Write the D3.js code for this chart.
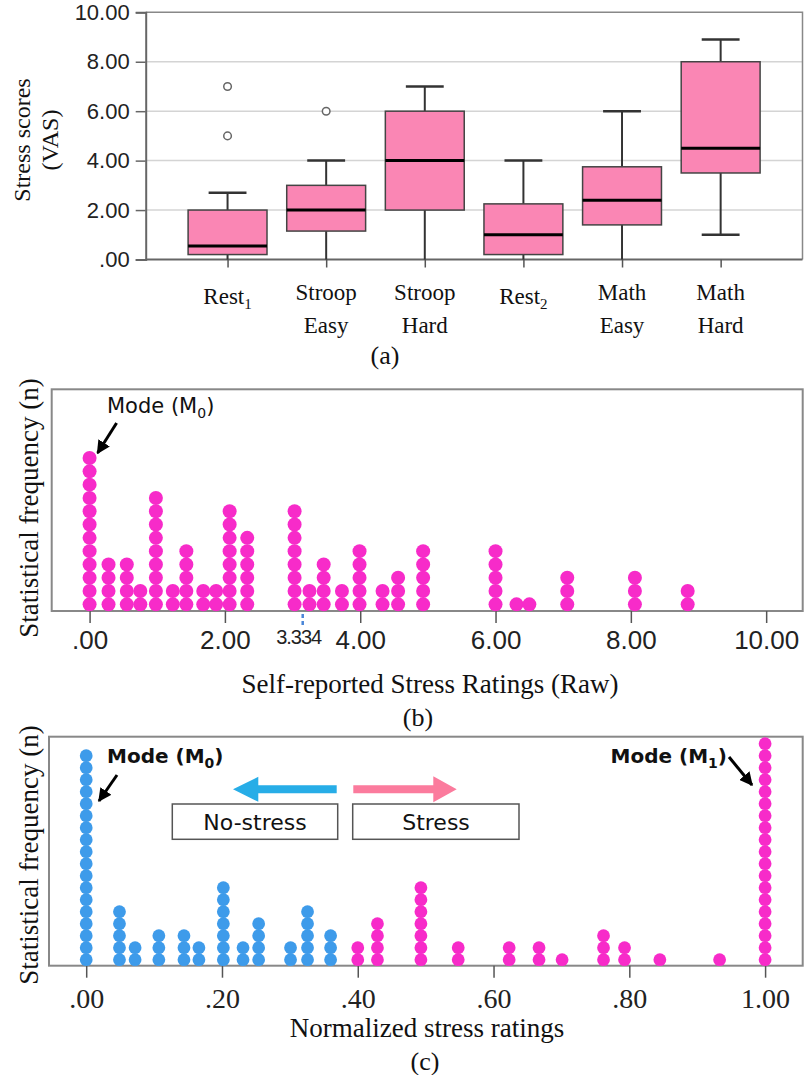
<!DOCTYPE html>
<html>
<head>
<meta charset="utf-8">
<script src="https://cdn.jsdelivr.net/npm/d3@7"></script>
<style>
  body { margin: 0; background: #fff; }
  svg { display: block; }
</style>
</head>
<body>
<div id="my_dataviz"></div>
<script>
// ---- panel (a) box plots ----
var categories = ["Rest1", "Stroop Easy", "Stroop Hard", "Rest2", "Math Easy", "Math Hard"];
var catLine1 = ["Rest", "Stroop", "Stroop", "Rest", "Math", "Math"];
var catSub = ["1", "", "", "2", "", ""];
var catLine2 = ["", "Easy", "Hard", "", "Easy", "Hard"];
var boxMin = [0, 0, 0, 0, 0, 1.0];
var boxQ1 = [0.2, 1.15, 2.0, 0.2, 1.4, 3.5];
var boxMedian = [0.55, 2.0, 4.0, 1.0, 2.4, 4.5];
var boxQ3 = [2.0, 3.0, 6.0, 2.25, 3.75, 8.0];
var boxMax = [2.7, 4.0, 7.0, 4.0, 6.0, 8.9];
var outlierCat = ["Rest1", "Rest1", "Stroop Easy"];
var outlierVal = [7, 5, 6];
var yTicksA = [0, 2, 4, 6, 8, 10];
var yTickLabelsA = [".00", "2.00", "4.00", "6.00", "8.00", "10.00"];

// ---- panel (b) raw ratings dot plot ----
var rawValues = [0, 0.28, 0.55, 0.75, 0.98, 1.23, 1.43, 1.68, 1.87, 2.07, 2.33, 3.03, 3.25, 3.46, 3.73, 3.99, 4.33, 4.56, 4.93, 6.0, 6.31, 6.5, 7.06, 8.06, 8.84];
var rawCounts = [12, 4, 4, 2, 9, 2, 5, 2, 2, 8, 6, 8, 2, 4, 2, 5, 2, 3, 5, 5, 1, 1, 3, 3, 2];
var xTicksB = [0, 2, 4, 6, 8, 10];
var xTickLabelsB = [".00", "2.00", "4.00", "6.00", "8.00", "10.00"];
var markerLabelB = "3.334";
var markerPosB = 3.15;

// ---- panel (c) normalized ratings dot plot ----
var noStressValues = [0, 0.049, 0.072, 0.107, 0.144, 0.166, 0.202, 0.231, 0.254, 0.301, 0.326, 0.36];
var noStressCounts = [18, 5, 2, 3, 3, 2, 7, 2, 4, 2, 5, 3];
var stressValues = [0.40, 0.429, 0.493, 0.548, 0.623, 0.667, 0.701, 0.762, 0.793, 0.845, 0.933, 1.0];
var stressCounts = [2, 4, 7, 2, 2, 2, 1, 3, 2, 1, 1, 19];
var xTicksC = [0, 0.2, 0.4, 0.6, 0.8, 1.0];
var xTickLabelsC = [".00", ".20", ".40", ".60", ".80", "1.00"];

var serif = "'Liberation Serif', 'Times New Roman', serif";
var sans = "'Liberation Sans', Arial, sans-serif";
var gothic = "'DejaVu Sans', sans-serif";
var magenta = "#f72bc9";
var blue = "#3e9bea";

var svg = d3.select("#my_dataviz")
  .append("svg")
  .attr("width", 804)
  .attr("height", 1075);

// arrowhead marker
svg.append("defs").append("marker")
  .attr("id", "blackHead")
  .attr("viewBox", "0 0 10 10")
  .attr("refX", 9).attr("refY", 5)
  .attr("markerWidth", 4.5).attr("markerHeight", 4.5)
  .attr("orient", "auto")
  .append("path").attr("d", "M0,0L10,5L0,10z").attr("fill", "#000");

/* ================= PANEL A ================= */
var a = {left: 145.7, right: 802.5, top: 12.3, bottom: 259.5};

var xA = d3.scalePoint()
  .domain(categories)
  .range([a.left, a.right])
  .padding(0.83);

var yA = d3.scaleLinear()
  .domain([0, 10])
  .range([a.bottom, a.top]);

var boxW = xA.step() * 0.8;
var capW = boxW * 0.48;

// gridlines
svg.append("g")
  .selectAll("line")
  .data(yTicksA.filter(function(d){ return d > 0 && d < 10 }))
  .enter()
  .append("line")
  .attr("x1", a.left).attr("x2", a.right)
  .attr("y1", function(d){ return yA(d) }).attr("y2", function(d){ return yA(d) })
  .attr("stroke", "#d4d4d4").attr("stroke-width", 1.5);

// frame top/right
svg.append("path")
  .attr("d", "M" + a.left + "," + a.top + "H" + a.right + "V" + a.bottom)
  .attr("fill", "none").attr("stroke", "#888").attr("stroke-width", 1.5);

// y axis
var yAxisA = svg.append("g")
  .attr("transform", "translate(" + a.left + ",0)")
  .call(d3.axisLeft(yA).tickValues(yTicksA).tickSize(10).tickPadding(6)
    .tickFormat(function(d, i){ return yTickLabelsA[i] }));
yAxisA.select(".domain").attr("stroke", "#666").attr("stroke-width", 2);
yAxisA.selectAll(".tick line").attr("stroke", "#666").attr("stroke-width", 1.5);
yAxisA.selectAll(".tick text").style("font-family", sans).style("font-size", "22px").attr("fill", "#222");

// x axis
var xAxisA = svg.append("g")
  .attr("transform", "translate(0," + a.bottom + ")")
  .call(d3.axisBottom(xA).tickSize(8).tickFormat(""));
xAxisA.select(".domain").attr("d", "M" + a.left + ",0H" + a.right).attr("stroke", "#666").attr("stroke-width", 2);
xAxisA.selectAll(".tick line").attr("stroke", "#555").attr("stroke-width", 1.5);

// category labels
svg.append("g")
  .selectAll("text")
  .data(categories)
  .enter()
  .append("text")
  .attr("text-anchor", "middle")
  .style("font-family", serif)
  .style("font-size", "23px")
  .attr("fill", "#111")
  .each(function(d, i){
    var t = d3.select(this);
    var cx = xA(d);
    if (catLine2[i] === "") {
      t.append("tspan").attr("x", cx).attr("y", 304).text(catLine1[i]);
      t.append("tspan").attr("dy", 5).style("font-size", "15px").text(catSub[i]);
    } else {
      t.append("tspan").attr("x", cx).attr("y", 300).text(catLine1[i]);
      t.append("tspan").attr("x", cx).attr("y", 333).text(catLine2[i]);
    }
  });

var boxes = svg.append("g")
  .selectAll("g")
  .data(categories)
  .enter()
  .append("g");

// whiskers
boxes.append("line")
  .attr("x1", function(d){ return xA(d) }).attr("x2", function(d){ return xA(d) })
  .attr("y1", function(d, i){ return yA(boxMax[i]) })
  .attr("y2", function(d, i){ return yA(boxQ3[i]) })
  .attr("stroke", "#333").attr("stroke-width", 2);
boxes.append("line")
  .attr("x1", function(d){ return xA(d) }).attr("x2", function(d){ return xA(d) })
  .attr("y1", function(d, i){ return yA(boxMin[i]) })
  .attr("y2", function(d, i){ return yA(boxQ1[i]) })
  .attr("stroke", "#333").attr("stroke-width", 2);
// caps
boxes.append("line")
  .attr("x1", function(d){ return xA(d) - capW/2 }).attr("x2", function(d){ return xA(d) + capW/2 })
  .attr("y1", function(d, i){ return yA(boxMax[i]) }).attr("y2", function(d, i){ return yA(boxMax[i]) })
  .attr("stroke", "#333").attr("stroke-width", 2.5);
boxes.filter(function(d, i){ return boxMin[i] > 0 })
  .append("line")
  .attr("x1", function(d){ return xA(d) - capW/2 }).attr("x2", function(d){ return xA(d) + capW/2 })
  .attr("y1", function(d){ return yA(boxMin[categories.indexOf(d)]) })
  .attr("y2", function(d){ return yA(boxMin[categories.indexOf(d)]) })
  .attr("stroke", "#333").attr("stroke-width", 2.5);
// box
boxes.append("rect")
  .attr("x", function(d){ return xA(d) - boxW/2 })
  .attr("width", boxW)
  .attr("y", function(d, i){ return yA(boxQ3[i]) })
  .attr("height", function(d, i){ return yA(boxQ1[i]) - yA(boxQ3[i]) })
  .attr("fill", "#fa86b4")
  .attr("stroke", "#444").attr("stroke-width", 1.5);
// median
boxes.append("line")
  .attr("x1", function(d){ return xA(d) - boxW/2 }).attr("x2", function(d){ return xA(d) + boxW/2 })
  .attr("y1", function(d, i){ return yA(boxMedian[i]) }).attr("y2", function(d, i){ return yA(boxMedian[i]) })
  .attr("stroke", "#000").attr("stroke-width", 3);

// outliers
svg.append("g")
  .selectAll("circle")
  .data(outlierVal)
  .enter()
  .append("circle")
  .attr("cx", function(d, i){ return xA(outlierCat[i]) })
  .attr("cy", function(d){ return yA(d) })
  .attr("r", 3.8)
  .attr("fill", "#fff")
  .attr("stroke", "#666").attr("stroke-width", 1.5);

// y title
svg.append("text")
  .attr("transform", "translate(30,140) rotate(-90)")
  .attr("text-anchor", "middle")
  .style("font-family", serif).style("font-size", "24px").attr("fill", "#111")
  .text("Stress scores");
svg.append("text")
  .attr("transform", "translate(58,140) rotate(-90)")
  .attr("text-anchor", "middle")
  .style("font-family", serif).style("font-size", "24px").attr("fill", "#111")
  .text("(VAS)");

svg.append("text")
  .attr("x", 385).attr("y", 364)
  .attr("text-anchor", "middle")
  .style("font-family", serif).style("font-size", "26px").attr("fill", "#111")
  .text("(a)");

/* helper: dot columns */
function dotColumns(g, values, counts, x, y, r, color) {
  g.selectAll("g.col")
    .data(values)
    .enter()
    .append("g")
    .attr("class", "col")
    .selectAll("circle")
    .data(function(d, i){ return d3.range(counts[i]).map(function(k){ return {v: d, k: k} }) })
    .enter()
    .append("circle")
    .attr("cx", function(d){ return x(d.v) })
    .attr("cy", function(d){ return y(d.k + 0.5) })
    .attr("r", r)
    .attr("fill", color);
}

/* ================= PANEL B ================= */
var b = {left: 51.7, right: 802.7, top: 389.3, bottom: 611};

var xB = d3.scaleLinear()
  .domain([-0.56, 10.54])
  .range([b.left, b.right]);

var yB = d3.scaleLinear()
  .domain([0, 16])
  .range([b.bottom, b.bottom - 16 * 13.3]);

svg.append("rect")
  .attr("x", b.left).attr("y", b.top)
  .attr("width", b.right - b.left).attr("height", b.bottom - b.top)
  .attr("fill", "none").attr("stroke", "#888").attr("stroke-width", 2);

var xAxisB = svg.append("g")
  .attr("transform", "translate(0," + b.bottom + ")")
  .call(d3.axisBottom(xB).tickValues(xTicksB).tickSize(12).tickPadding(8)
    .tickFormat(function(d, i){ return xTickLabelsB[i] }));
xAxisB.select(".domain").remove();
xAxisB.selectAll(".tick line").attr("stroke", "#555").attr("stroke-width", 1.5);
xAxisB.selectAll(".tick text").style("font-family", sans).style("font-size", "26px").attr("fill", "#222");

dotColumns(svg.append("g"), rawValues, rawCounts, xB, yB, 7, magenta);

// marker for mean value
svg.append("line")
  .attr("x1", xB(markerPosB)).attr("x2", xB(markerPosB))
  .attr("y1", b.bottom + 3).attr("y2", b.bottom + 16)
  .attr("stroke", "#4a86d8").attr("stroke-width", 2.5)
  .attr("stroke-dasharray", "4,3");
svg.append("text")
  .attr("x", xB(markerPosB) - 4).attr("y", 644)
  .attr("text-anchor", "middle")
  .style("font-family", sans).style("font-size", "20px").attr("fill", "#222")
  .style("letter-spacing", "-1px")
  .text(markerLabelB);

// mode annotation
var topB = yB(rawCounts[0] - 0.5);
svg.append("line")
  .attr("x1", xB(rawValues[0]) + 27).attr("y1", topB - 35)
  .attr("x2", xB(rawValues[0]) + 8).attr("y2", topB - 5)
  .attr("stroke", "#000").attr("stroke-width", 3)
  .attr("marker-end", "url(#blackHead)");
var modeB = svg.append("text")
  .attr("x", 107).attr("y", 413)
  .style("font-family", gothic).style("font-size", "21px").attr("fill", "#111");
modeB.append("tspan").text("Mode (M");
modeB.append("tspan").attr("dy", 5).style("font-size", "14px").text("0");
modeB.append("tspan").attr("dy", -5).text(")");

svg.append("text")
  .attr("transform", "translate(38,508) rotate(-90)")
  .attr("text-anchor", "middle")
  .style("font-family", serif).style("font-size", "27px").attr("fill", "#111")
  .text("Statistical frequency (n)");
svg.append("text")
  .attr("x", 430).attr("y", 693)
  .attr("text-anchor", "middle")
  .style("font-family", serif).style("font-size", "27px").attr("fill", "#111")
  .text("Self-reported Stress Ratings (Raw)");
svg.append("text")
  .attr("x", 418).attr("y", 726)
  .attr("text-anchor", "middle")
  .style("font-family", serif).style("font-size", "26px").attr("fill", "#111")
  .text("(b)");

/* ================= PANEL C ================= */
var c = {left: 49, right: 802.7, top: 736.7, bottom: 965.7};

var xC = d3.scaleLinear()
  .domain([-0.0548, 1.0554])
  .range([c.left, c.right]);

var yC = d3.scaleLinear()
  .domain([0, 20])
  .range([c.bottom, c.bottom - 20 * 12]);

svg.append("rect")
  .attr("x", c.left).attr("y", c.top)
  .attr("width", c.right - c.left).attr("height", c.bottom - c.top)
  .attr("fill", "none").attr("stroke", "#888").attr("stroke-width", 2);

var xAxisC = svg.append("g")
  .attr("transform", "translate(0," + c.bottom + ")")
  .call(d3.axisBottom(xC).tickValues(xTicksC).tickSize(12).tickPadding(10)
    .tickFormat(function(d, i){ return xTickLabelsC[i] }));
xAxisC.select(".domain").remove();
xAxisC.selectAll(".tick line").attr("stroke", "#555").attr("stroke-width", 1.5);
xAxisC.selectAll(".tick text").style("font-family", serif).style("font-size", "28px").attr("fill", "#222");

dotColumns(svg.append("g"), noStressValues, noStressCounts, xC, yC, 6.4, blue);
dotColumns(svg.append("g"), stressValues, stressCounts, xC, yC, 6.4, magenta);

// direction arrows
var arrowY = 789.3;
svg.append("path")
  .attr("d", "M336.7," + (arrowY - 4) + "H258.3V" + (arrowY - 12.5) + "L233," + arrowY + "L258.3," + (arrowY + 12.5) + "V" + (arrowY + 4) + "H336.7Z")
  .attr("fill", "#27ade7");
svg.append("path")
  .attr("d", "M353.3," + (arrowY - 4) + "H433.3V" + (arrowY - 13) + "L456.7," + arrowY + "L433.3," + (arrowY + 13) + "V" + (arrowY + 4) + "H353.3Z")
  .attr("fill", "#fb7b9d");

// label boxes
svg.append("rect")
  .attr("x", 172.3).attr("y", 804).attr("width", 165.4).attr("height", 35.3)
  .attr("fill", "#fff").attr("stroke", "#555").attr("stroke-width", 1.5);
svg.append("text")
  .attr("x", 255).attr("y", 830)
  .attr("text-anchor", "middle")
  .style("font-family", gothic).style("font-size", "22px").attr("fill", "#111")
  .text("No-stress");
svg.append("rect")
  .attr("x", 352.7).attr("y", 804).attr("width", 166.3).attr("height", 35.3)
  .attr("fill", "#fff").attr("stroke", "#555").attr("stroke-width", 1.5);
svg.append("text")
  .attr("x", 436).attr("y", 830)
  .attr("text-anchor", "middle")
  .style("font-family", gothic).style("font-size", "22px").attr("fill", "#111")
  .text("Stress");

// mode annotations
var modeC0 = svg.append("text")
  .attr("x", 107).attr("y", 763)
  .style("font-family", gothic).style("font-size", "20px").style("font-weight", "bold").attr("fill", "#111");
modeC0.append("tspan").text("Mode (M");
modeC0.append("tspan").attr("dy", 5).style("font-size", "14px").text("0");
modeC0.append("tspan").attr("dy", -5).text(")");
svg.append("line")
  .attr("x1", 117).attr("y1", 775)
  .attr("x2", 99).attr("y2", 801)
  .attr("stroke", "#000").attr("stroke-width", 3)
  .attr("marker-end", "url(#blackHead)");

var modeC1 = svg.append("text")
  .attr("x", 727).attr("y", 763)
  .attr("text-anchor", "end")
  .style("font-family", gothic).style("font-size", "20px").style("font-weight", "bold").attr("fill", "#111");
modeC1.append("tspan").text("Mode (M");
modeC1.append("tspan").attr("dy", 5).style("font-size", "14px").text("1");
modeC1.append("tspan").attr("dy", -5).text(")");
svg.append("line")
  .attr("x1", 729).attr("y1", 757)
  .attr("x2", 752).attr("y2", 785)
  .attr("stroke", "#000").attr("stroke-width", 3)
  .attr("marker-end", "url(#blackHead)");

svg.append("text")
  .attr("transform", "translate(38,855) rotate(-90)")
  .attr("text-anchor", "middle")
  .style("font-family", serif).style("font-size", "27px").attr("fill", "#111")
  .text("Statistical frequency (n)");
svg.append("text")
  .attr("x", 427).attr("y", 1037)
  .attr("text-anchor", "middle")
  .style("font-family", serif).style("font-size", "27px").attr("fill", "#111")
  .text("Normalized stress ratings");
svg.append("text")
  .attr("x", 425).attr("y", 1070)
  .attr("text-anchor", "middle")
  .style("font-family", serif).style("font-size", "26px").attr("fill", "#111")
  .text("(c)");
</script>
</body>
</html>
